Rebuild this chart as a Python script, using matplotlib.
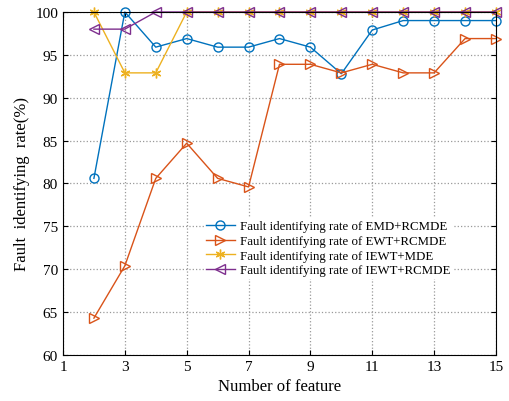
import matplotlib
matplotlib.use('Agg')
import matplotlib.pyplot as plt

features = list(range(2, 16))
emd_rcmde = [80.6, 100, 95.9, 96.9, 95.9, 95.9, 96.9, 95.9, 92.8, 97.9, 99, 99, 99, 99]
ewt_rcmde = [64.3, 70.4, 80.6, 84.7, 80.6, 79.6, 93.9, 93.9, 92.9, 93.9, 92.9, 92.9, 96.9, 96.9]
iewt_mde = [100, 92.9, 92.9, 100, 100, 100, 100, 100, 100, 100, 100, 100, 100, 100]
iewt_rcmde = [98, 98, 100, 100, 100, 100, 100, 100, 100, 100, 100, 100, 100, 100]

plt.rcParams['font.family'] = ['Liberation Serif', 'DejaVu Serif']

fig = plt.figure(figsize=(5.1, 4.02), dpi=100)
ax = fig.add_axes([0.1235, 0.1144, 0.849, 0.8533])

lw = 1.0
ax.plot(features, emd_rcmde, color='#0072BD', marker='o', mfc='none', ms=6.5, lw=lw,
        clip_on=False, label='Fault identifying rate of EMD+RCMDE')
ax.plot(features, ewt_rcmde, color='#D95319', marker='>', mfc='none', ms=7.5, lw=lw,
        clip_on=False, label='Fault identifying rate of EWT+RCMDE')
ax.plot(features, iewt_mde, color='#EDB120', marker=(6, 2, 0), ms=7, lw=lw,
        clip_on=False, label='Fault identifying rate of IEWT+MDE')
ax.plot(features, iewt_rcmde, color='#7E2F8E', marker='<', mfc='none', ms=7.5, lw=lw,
        clip_on=False, label='Fault identifying rate of IEWT+RCMDE')

ax.set_xlim(1, 15)
ax.set_ylim(60, 100)
ax.set_xticks(range(1, 16, 2))
ax.set_yticks(range(60, 101, 5))
ax.grid(True, linestyle=':', color='#999999', linewidth=0.9)
ax.tick_params(direction='in', top=True, right=True, labelsize=11)
ax.set_xlabel('Number of feature', fontsize=12)
ax.set_ylabel('Fault  identifying  rate(%)', fontsize=12)

leg = ax.legend(loc='upper left', bbox_to_anchor=(0.325, 0.40), fontsize=9.3,
                frameon=True, edgecolor='none', fancybox=False, borderaxespad=0,
                handlelength=2.2, handletextpad=0.4, borderpad=0.2, labelspacing=0.2)
leg.get_frame().set_alpha(1)
leg.set_zorder(5)

fig.savefig('out.png', dpi=100)
